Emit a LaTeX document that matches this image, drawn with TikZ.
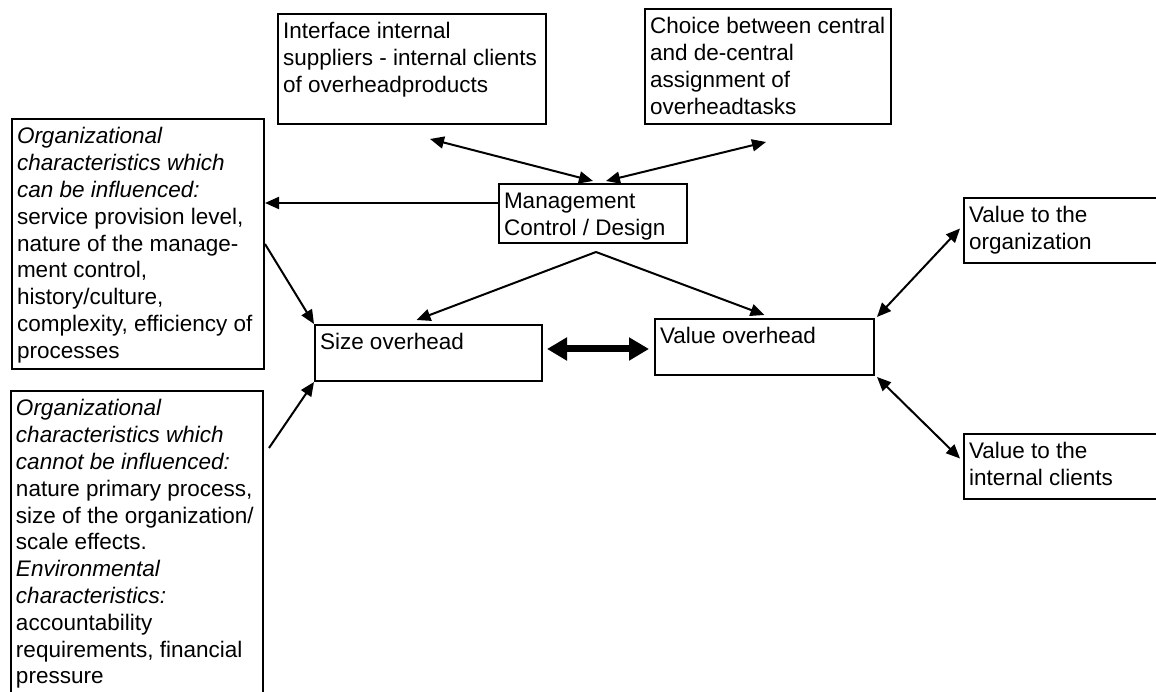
\documentclass[tikz,border=0pt]{standalone}
\usepackage{fontspec}
\setmainfont{Liberation Sans}
\usetikzlibrary{arrows.meta,calc}
\newcommand{\bfs}{\fontsize{22.5pt}{26.8pt}\selectfont}
\newcommand{\boxtext}[3]{\parbox[t][#2][t]{#1}{\raggedright\rule{0pt}{25pt}#3}}
\begin{document}
\begin{tikzpicture}[x=1pt,y=1pt,
  box/.style={draw, line width=2pt, inner xsep=5pt, inner ysep=0pt, anchor=north west, font=\bfs},
  arr/.style={line width=2pt, -{Triangle[length=14pt,width=12pt]}},
  darr/.style={line width=2pt, {Triangle[length=14pt,width=12pt]}-{Triangle[length=14pt,width=12pt]}},
  fat/.style={line width=7pt, {Triangle[length=20pt,width=22pt]}-{Triangle[length=20pt,width=22pt]}}]
\useasboundingbox (0,0) rectangle (1156,692);
\clip (0,0) rectangle (1156,692);
\fill[white] (0,0) rectangle (1156,692);

\node[box] (intf) at (277,679) {\boxtext{258pt}{110pt}{Interface internal\\suppliers - internal clients\\of overheadproducts}};
\node[box] (choice) at (644,684) {\boxtext{236pt}{115pt}{Choice between central\\and de-central\\assignment of\\overheadtasks}};
\node[box] (mgmt) at (498,509) {\boxtext{178pt}{59pt}{Management\\Control / Design}};
\node[box] (orgc) at (11,574) {\boxtext{242pt}{250pt}{\itshape Organizational\\characteristics which\\can be influenced:\upshape\\service provision level,\\nature of the manage-\\ment control,\\history/culture,\\complexity, efficiency of\\processes}};
\node[box] (orgn) at (10,302) {\boxtext{242pt}{330pt}{\itshape Organizational\\characteristics which\\cannot be influenced:\upshape\\nature primary process,\\size of the organization/\\scale effects.\\\itshape Environmental\\characteristics:\upshape\\accountability\\requirements, financial\\pressure}};
\node[box] (size) at (314,368) {\boxtext{217pt}{56pt}{Size overhead}};
\node[box] (valo) at (654,374) {\boxtext{209pt}{56pt}{Value overhead}};
\node[box] (vorg) at (963,495) {\boxtext{200pt}{65pt}{Value to the\\organization}};
\node[box] (vint) at (963,259) {\boxtext{200pt}{65pt}{Value to the\\internal clients}};

\draw[darr] ([xshift=18pt,yshift=-14pt]intf.south) -- ([yshift=2pt]mgmt.north);
\draw[darr] ([xshift=-2pt,yshift=-17pt]choice.south) -- ([xshift=13pt,yshift=2pt]mgmt.north);
\draw[arr] ([yshift=10.5pt]mgmt.west) coordinate (m1) -- (m1 -| orgc.east);
\draw[arr] (orgc.east) -- (size.north west);
\draw[arr] ([xshift=5pt,yshift=-58pt]orgn.north east) -- (size.south west);
\draw[arr] ([xshift=3pt,yshift=-8pt]mgmt.south) coordinate (ap) -- ([xshift=-12pt,yshift=4pt]size.north);
\draw[arr] (ap) -- ([yshift=3pt]valo.north);
\path ([xshift=4pt,yshift=4pt]size.east) coordinate (t1);
\draw[fat] (t1) -- ($(t1 -| valo.west)+(-5,0)$);
\draw[darr] ([xshift=2pt,yshift=1pt]valo.north east) -- ([xshift=-3pt,yshift=2pt]vorg.west);
\draw[darr] ([xshift=2pt,yshift=-1pt]valo.south east) -- ([xshift=-3pt,yshift=8pt]vint.west);
\end{tikzpicture}
\end{document}
